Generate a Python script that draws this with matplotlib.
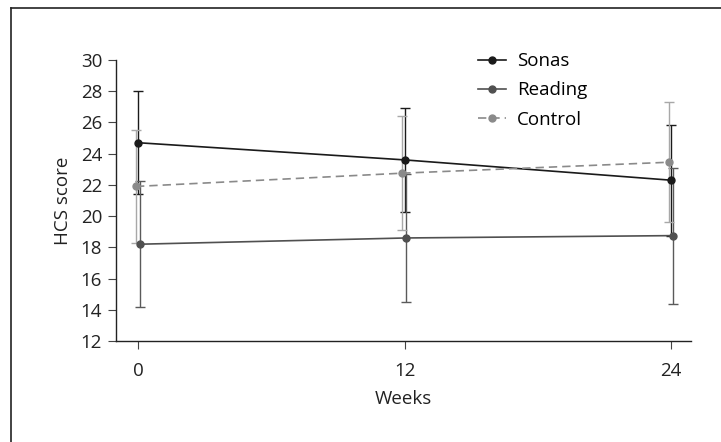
import matplotlib.pyplot as plt
from matplotlib.lines import Line2D

# data
weeks = [0, 12, 24]
sonas = [24.7, 23.6, 22.3]
sonas_err = [3.3, 3.35, 3.55]
reading = [18.2, 18.6, 18.75]
reading_err = [4.05, 4.1, 4.35]
control = [21.9, 22.75, 23.45]
control_err = [3.6, 3.65, 3.85]

plt.rcParams['font.family'] = ['Open Sans', 'DejaVu Sans']

fig = plt.figure(figsize=(7.21, 4.42), dpi=100)
ax = fig.add_axes([0.1609, 0.2285, 0.7975, 0.6358])

# outer frame (cut at right and bottom)
fig.add_artist(Line2D([11/721, 11/721], [0, 1 - 8/442], color='#222222', lw=1.2))
fig.add_artist(Line2D([11/721, 1], [1 - 8/442, 1 - 8/442], color='#222222', lw=1.2))

series = [
    ('Sonas', sonas, sonas_err, '#1a1a1a', '#1a1a1a', '-', 0.0),
    ('Reading', reading, reading_err, '#505050', '#5a5a5a', '-', 0.08),
    ('Control', control, control_err, '#8a8a8a', '#a8a8a8', '--', -0.1),
]
for name, vals, err, col, ecol, ls, dx in series:
    xs = [w + dx for w in weeks]
    ax.errorbar(xs, vals, yerr=err, fmt='none', ecolor=ecol, elinewidth=1.0,
                capsize=3.6, capthick=1.0, zorder=2)
    ax.plot(xs, vals, color=col, ls=ls, lw=1.2, marker='o', ms=5,
            label=name, zorder=3, dashes=(5, 3) if ls == '--' else (None, None))

ax.set_xlim(-1, 24.9)
ax.set_ylim(12, 30)
ax.set_xticks(weeks)
ax.set_yticks(range(12, 31, 2))
ax.spines['top'].set_visible(False)
ax.spines['right'].set_visible(False)
for s in ('left', 'bottom'):
    ax.spines[s].set_color('#222222')
    ax.spines[s].set_linewidth(1.0)
ax.tick_params(direction='out', length=6, width=0.8, color='#444444',
               labelsize=13.5, labelcolor='#222222', pad=4)
ax.tick_params(axis='x', pad=9)
ax.set_xlabel('Weeks', fontsize=13.5, color='#222222', labelpad=7)
ax.set_ylabel('HCS score', fontsize=13.5, color='#222222', labelpad=6)

ax.legend(loc='upper left', bbox_to_anchor=(0.6, 1.088), frameon=False,
          fontsize=13.5, handlelength=1.5, handletextpad=0.6, labelspacing=0.6)

fig.savefig('out.png', dpi=100)
